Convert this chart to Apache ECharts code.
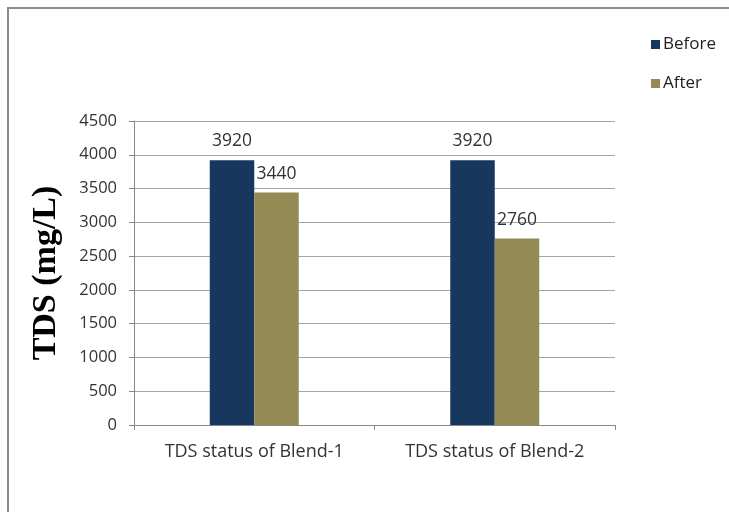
<!DOCTYPE html>
<html>
<head>
<meta charset="utf-8">
<script src="https://cdn.jsdelivr.net/npm/echarts@6/dist/echarts.min.js"></script>
<style>
  html, body { margin: 0; padding: 0; background: #fff; }
  #main { width: 729px; height: 512px; }
</style>
</head>
<body>
<div id="main"></div>
<script>
var categories = ["TDS status of Blend-1", "TDS status of Blend-2"];
var beforeValues = [3920, 3920];
var afterValues = [3440, 2760];
var seriesNames = ["Before", "After"];

var labelFont = "'Open Sans', sans-serif";

// 基于准备好的dom，初始化echarts实例
var myChart = echarts.init(document.getElementById("main"));

myChart.setOption({
  animation: false,
  backgroundColor: "#fff",
  graphic: [
    {
      type: "polyline",
      shape: { points: [[8, 512], [8, 8], [729, 8]] },
      style: { stroke: "#8c8c8c", lineWidth: 2, fill: null },
    },
  ],
  legend: {
    data: seriesNames,
    orient: "vertical",
    left: 646,
    top: 31,
    itemWidth: 9,
    itemHeight: 9,
    itemGap: 22,
    icon: "rect",
    textStyle: { fontFamily: labelFont, fontSize: 17, color: "#222", padding: [0, 0, 0, -2] },
  },
  grid: { left: 134, right: 114, top: 121, bottom: 87 },
  xAxis: {
    type: "category",
    data: categories,
    axisLine: { lineStyle: { color: "#888" } },
    axisTick: { show: true, length: 5, lineStyle: { color: "#888" } },
    axisLabel: { fontFamily: labelFont, fontSize: 18, color: "#333", margin: 18 },
  },
  yAxis: {
    type: "value",
    min: 0,
    max: 4500,
    interval: 500,
    name: "TDS (mg/L)",
    nameLocation: "middle",
    nameGap: 71,
    nameTextStyle: {
      fontFamily: "'Liberation Serif', 'Times New Roman', serif",
      fontWeight: "bold",
      fontSize: 34,
      color: "#000",
    },
    axisLine: { show: true, lineStyle: { color: "#888" } },
    axisTick: { show: true, length: 5, lineStyle: { color: "#888" } },
    axisLabel: {
      fontFamily: labelFont,
      fontSize: 16.5,
      color: "#333",
      margin: 17,
      formatter: function (v) { return String(v); },
    },
    splitLine: { lineStyle: { color: "#a6a6a6" } },
  },
  series: [
    {
      name: seriesNames[0],
      type: "bar",
      data: beforeValues,
      barGap: 0,
      barCategoryGap: "63%",
      itemStyle: { color: "#17375e" },
      label: {
        show: true,
        position: "top",
        distance: 10,
        fontFamily: labelFont,
        fontSize: 17.5,
        color: "#333",
      },
    },
    {
      name: seriesNames[1],
      type: "bar",
      data: afterValues,
      itemStyle: { color: "#948a54" },
      label: {
        show: true,
        position: "top",
        distance: 10,
        fontFamily: labelFont,
        fontSize: 17.5,
        color: "#333",
      },
    },
  ],
});
</script>
</body>
</html>
